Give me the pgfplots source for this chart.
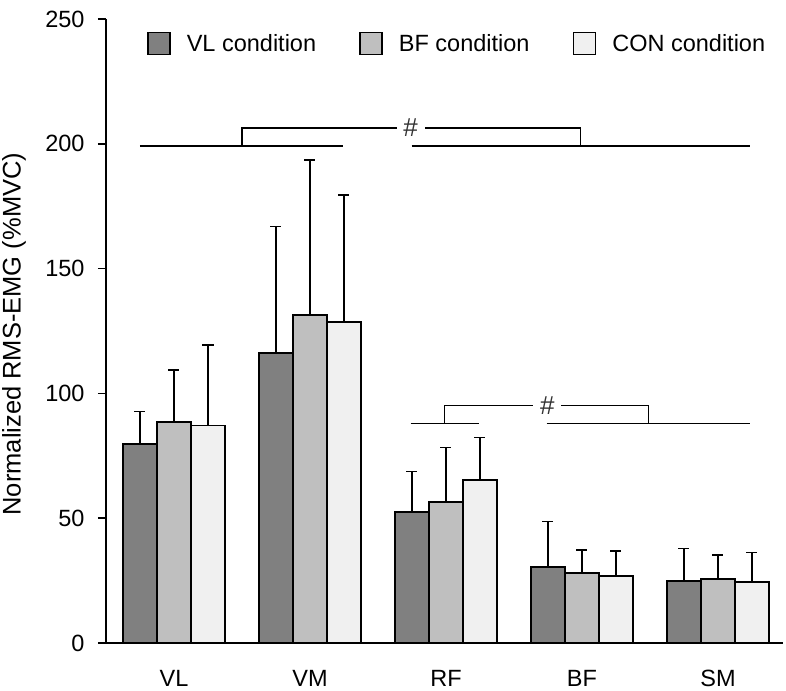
\documentclass[border=0pt]{standalone}
\usepackage{pgfplots}
\pgfplotsset{compat=1.18}
\usepackage{pgfplotstable}
\usepackage{fontspec}
\setmainfont{Liberation Sans}
\definecolor{cVL}{HTML}{808080}
\definecolor{cBF}{HTML}{BFBFBF}
\definecolor{cCON}{HTML}{F0F0F0}

\pgfplotstableread{
x y e
0 79.6 13.1
1 116.1 50.7
2 52.4 16.4
3 30.4 18.2
4 24.7 13.2
}\dVL
\pgfplotstableread{
x y e
0 88.7 20.7
1 131.5 62.0
2 56.5 21.8
3 28.0 9.3
4 25.5 9.8
}\dBF
\pgfplotstableread{
x y e
0 87.1 32.2
1 128.5 51.0
2 65.2 17.1
3 27.0 9.9
4 24.4 11.9
}\dCON

\begin{document}
\begin{tikzpicture}
\begin{axis}[
  scale only axis,
  width=677bp, height=624bp,
  xmin=-0.5, xmax=4.478,
  ymin=0, ymax=250,
  axis x line=bottom, axis y line=left,
  axis line style={-, line width=1.8bp},
  ytick={0,50,100,150,200,250},
  xtick={0,1,2,3,4},
  xticklabels={VL,VM,RF,BF,SM},
  major x tick style={draw=none},
  major tick length=8bp,
  tick align=outside,
  tick style={line width=1.5bp, black},
  /pgf/number format/assume math mode=true,
  every tick label/.append style={font=\fontsize{23.5bp}{27bp}\selectfont},
  xticklabel style={font=\fontsize{23.5bp}{27bp}\selectfont, yshift=-16bp},
  yticklabel style={font=\fontsize{23.5bp}{27bp}\selectfont, xshift=-10bp},
  ylabel={Normalized RMS-EMG (\%MVC)},
  every axis y label/.style={at={(axis description cs:-0.136,0.495)}, rotate=90, anchor=center, font=\fontsize{25.5bp}{29bp}\selectfont},
  ybar=0pt, bar width=34bp,
  legend columns=3,
  legend style={at={(rel axis cs:0.0606,0.9607)}, anchor=west, draw=none, fill=none,
    inner sep=0pt, outer sep=0pt,
    font=\fontsize{23.5bp}{28bp}\selectfont,
    /tikz/every odd column/.append style={column sep=14bp},
    /tikz/every even column/.append style={column sep=41bp}},
  legend image code/.code={\draw[#1, line width=1.8bp] (0bp,-11bp) rectangle (22bp,11bp);},
  every axis plot/.append style={draw=black, line width=1.8bp},
  error bars/y dir=plus,
  error bars/y explicit,
  error bars/error bar style={line width=1.5bp, black},
  error bars/error mark options={rotate=90, mark size=5.5bp, line width=1.5bp, black},
  clip=false,
]
\addplot[fill=cVL] table[x=x, y=y, y error=e] {\dVL};
\addplot[fill=cBF] table[x=x, y=y, y error=e] {\dBF};
\addplot[fill=cCON] table[x=x, y=y, y error=e] {\dCON};
\legend{VL condition, BF condition, CON condition}

% significance brackets
\draw[line width=1.5bp] (axis cs:-0.25,199.1) -- (axis cs:1.243,199.1);
\draw[line width=1.5bp] (axis cs:1.748,199.1) -- (axis cs:4.235,199.1);
\draw[line width=1.5bp] (axis cs:0.5,199.1) |- (axis cs:1.64,206.4);
\draw[line width=1.5bp] (axis cs:1.846,206.4) -| (axis cs:2.99,199.1);
\node[font=\fontsize{26bp}{30bp}\selectfont, text=black!80] at (axis cs:1.74,206.4) {\#};

\draw[line width=1.5bp] (axis cs:1.74,88.0) -- (axis cs:2.245,88.0);
\draw[line width=1.5bp] (axis cs:2.74,88.0) -- (axis cs:4.235,88.0);
\draw[line width=1.5bp] (axis cs:1.99,88.0) |- (axis cs:2.642,95.1);
\draw[line width=1.5bp] (axis cs:2.846,95.1) -| (axis cs:3.488,88.0);
\node[font=\fontsize{26bp}{30bp}\selectfont, text=black!80] at (axis cs:2.745,95.1) {\#};
\end{axis}
\pgfresetboundingbox
\path[use as bounding box] (-106bp,-48bp) rectangle (680bp,643bp);
\end{tikzpicture}
\end{document}
